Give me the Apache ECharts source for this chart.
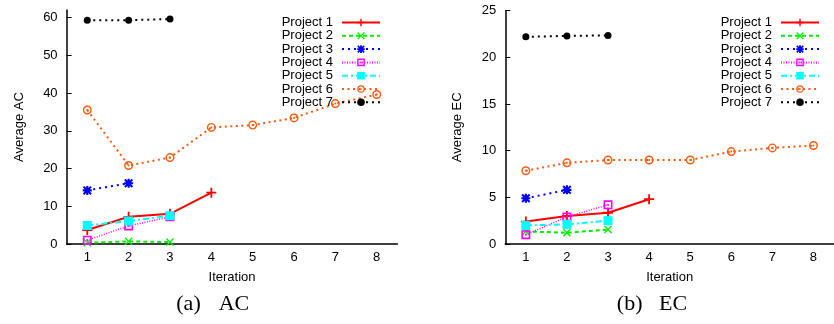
<!DOCTYPE html>
<html>
<head>
<meta charset="utf-8">
<script src="https://cdn.jsdelivr.net/npm/echarts@6/dist/echarts.min.js"></script>
<style>html,body{margin:0;padding:0;background:#fff}#c{width:834px;height:324px}</style>
</head>
<body>
<div id="c"></div>
<script>
// ---- data ----
const iterations = ['1','2','3','4','5','6','7','8'];
const projectNames = ['Project 1','Project 2','Project 3','Project 4','Project 5','Project 6','Project 7'];

const acP1 = [3.7, 7.2, 8.0, 13.6];
const acP2 = [0.3, 0.7, 0.5];
const acP3 = [14.2, 16.1];
const acP4 = [1.0, 4.8, 7.2];
const acP5 = [4.9, 6.1, 7.5];
const acP6 = [35.5, 20.8, 22.9, 30.9, 31.5, 33.4, 37.2, 39.6];
const acP7 = [59.3, 59.3, 59.6];

const ecP1 = [2.4, 3.0, 3.35, 4.8];
const ecP2 = [1.35, 1.2, 1.55];
const ecP3 = [4.9, 5.8];
const ecP4 = [1.0, 2.9, 4.2];
const ecP5 = [2.0, 2.1, 2.5];
const ecP6 = [7.85, 8.7, 9.0, 9.0, 9.0, 9.9, 10.3, 10.55];
const ecP7 = [22.2, 22.3, 22.35];

const acTicks = [0, 10, 20, 30, 40, 50, 60];
const ecTicks = [0, 5, 10, 15, 20, 25];

// ---- styles ----
const SYM = {
  plus: 'path://M4.1,0H5.9V4.1H10V5.9H5.9V10H4.1V5.9H0V4.1H4.1Z',
  cross: 'path://M0,1.2L1.2,0L5,3.8L8.8,0L10,1.2L6.2,5L10,8.8L8.8,10L5,6.2L1.2,10L0,8.8L3.8,5Z',
  star: 'path://M3.8,0H6.2V3.8H10V6.2H6.2V10H3.8V6.2H0V3.8H3.8Z M0,1.6L1.6,0L5,3.4L8.4,0L10,1.6L6.6,5L10,8.4L8.4,10L5,6.6L1.6,10L0,8.4L3.4,5Z',
  sqOpen: 'path://M0,0H10V10H0Z M1.8,1.8V8.2H8.2V1.8Z M4,4H6V6H4Z',
  circOpen: 'path://M5,0A5,5 0 1,1 5,10A5,5 0 1,1 5,0Z M5,1.6A3.4,3.4 0 1,0 5,8.4A3.4,3.4 0 1,0 5,1.6Z M5,3.9A1.1,1.1 0 1,1 5,6.1A1.1,1.1 0 1,1 5,3.9Z'
};
const styles = [
  {color:'#ff0000', type:'solid', width:2, symbol:SYM.plus, size:10},
  {color:'#00ee00', type:[4,3], width:2, symbol:SYM.cross, size:8},
  {color:'#0000ff', type:[2,4], width:2, symbol:SYM.star, size:9},
  {color:'#ff00ff', type:[1,1.5], width:1.5, symbol:SYM.sqOpen, size:9},
  {color:'#00ffff', type:[6,3,2,3], width:2, symbol:'rect', size:9},
  {color:'#ff5a10', type:[2,3.5], width:2, symbol:SYM.circOpen, size:9},
  {color:'#000000', type:[2,4], width:2, symbol:'circle', size:7}
];

const acData = [acP1, acP2, acP3, acP4, acP5, acP6, acP7];
const ecData = [ecP1, ecP2, ecP3, ecP4, ecP5, ecP6, ecP7];

function mkSeries(dataSets, idx) {
  return dataSets.map((d, i) => ({
    name: projectNames[i],
    type: 'line',
    xAxisIndex: idx, yAxisIndex: idx,
    data: d,
    symbol: styles[i].symbol,
    symbolSize: styles[i].size,
    showAllSymbol: true,
    lineStyle: {color: styles[i].color, type: styles[i].type, width: styles[i].width, cap: 'butt'},
    itemStyle: {color: styles[i].color},
    emphasis: {disabled: true}
  }));
}

const font = 'Liberation Sans';
const txt = {color:'#000', fontFamily: font, fontSize: 13};

function xAxis(gi) {
  return {
    type:'category', gridIndex: gi, data: iterations, boundaryGap: true,
    name:'Iteration', nameLocation:'middle', nameGap: 27, nameTextStyle: txt,
    axisLine:{lineStyle:{color:'#000', width:1.5}},
    axisTick:{alignWithLabel:true, inside:true, length:5, lineStyle:{color:'#000', width:1}},
    axisLabel:Object.assign({margin:7}, txt),
    splitLine:{show:false}
  };
}
function yAxis(gi, name, max, ticks) {
  return {
    type:'value', gridIndex: gi, min:0, max:max,
    name:name, nameLocation:'middle', nameGap: 41, nameRotate: 90, nameTextStyle: txt,
    axisLine:{show:true, lineStyle:{color:'#000', width:1.5}},
    axisTick:{show:true, inside:true, length:5, customValues: ticks, lineStyle:{color:'#000', width:1}},
    axisLabel:Object.assign({margin:9, customValues: ticks}, txt),
    splitLine:{show:false}
  };
}
function legend(right) {
  return {
    data: projectNames, orient:'vertical', right: right, top: 16, align:'right',
    itemWidth: 38, itemHeight: 9.5, itemGap: 0.3, padding: 0,
    textStyle: Object.assign({lineHeight: 13, padding:[0,4,0,0]}, txt),
    selectedMode: false
  };
}

const chart = echarts.init(document.getElementById('c'), null, {renderer:'canvas'});
chart.setOption({
  animation: false,
  backgroundColor: '#fff',
  grid: [
    {left: 66.6, top: 10, width: 330.8, height: 234},
    {left: 505.3, top: 10.7, width: 331.4, height: 233.3}
  ],
  xAxis: [xAxis(0), xAxis(1)],
  yAxis: [yAxis(0, 'Average AC', 62, acTicks), yAxis(1, 'Average EC', 25, ecTicks)],
  legend: [legend(453), legend(14)],
  series: mkSeries(acData, 0).concat(mkSeries(ecData, 1)),
  graphic: [
    {type:'text', x:188.5, y:304, style:{text:'(a)', fill:'#000', font:'22px "Liberation Serif"', textAlign:'center', textVerticalAlign:'middle'}},
    {type:'text', x:234, y:304, style:{text:'AC', fill:'#000', font:'22px "Liberation Serif"', textAlign:'center', textVerticalAlign:'middle'}},
    {type:'text', x:629.7, y:304, style:{text:'(b)', fill:'#000', font:'22px "Liberation Serif"', textAlign:'center', textVerticalAlign:'middle'}},
    {type:'text', x:673, y:304, style:{text:'EC', fill:'#000', font:'22px "Liberation Serif"', textAlign:'center', textVerticalAlign:'middle'}}
  ]
});
</script>
</body>
</html>
